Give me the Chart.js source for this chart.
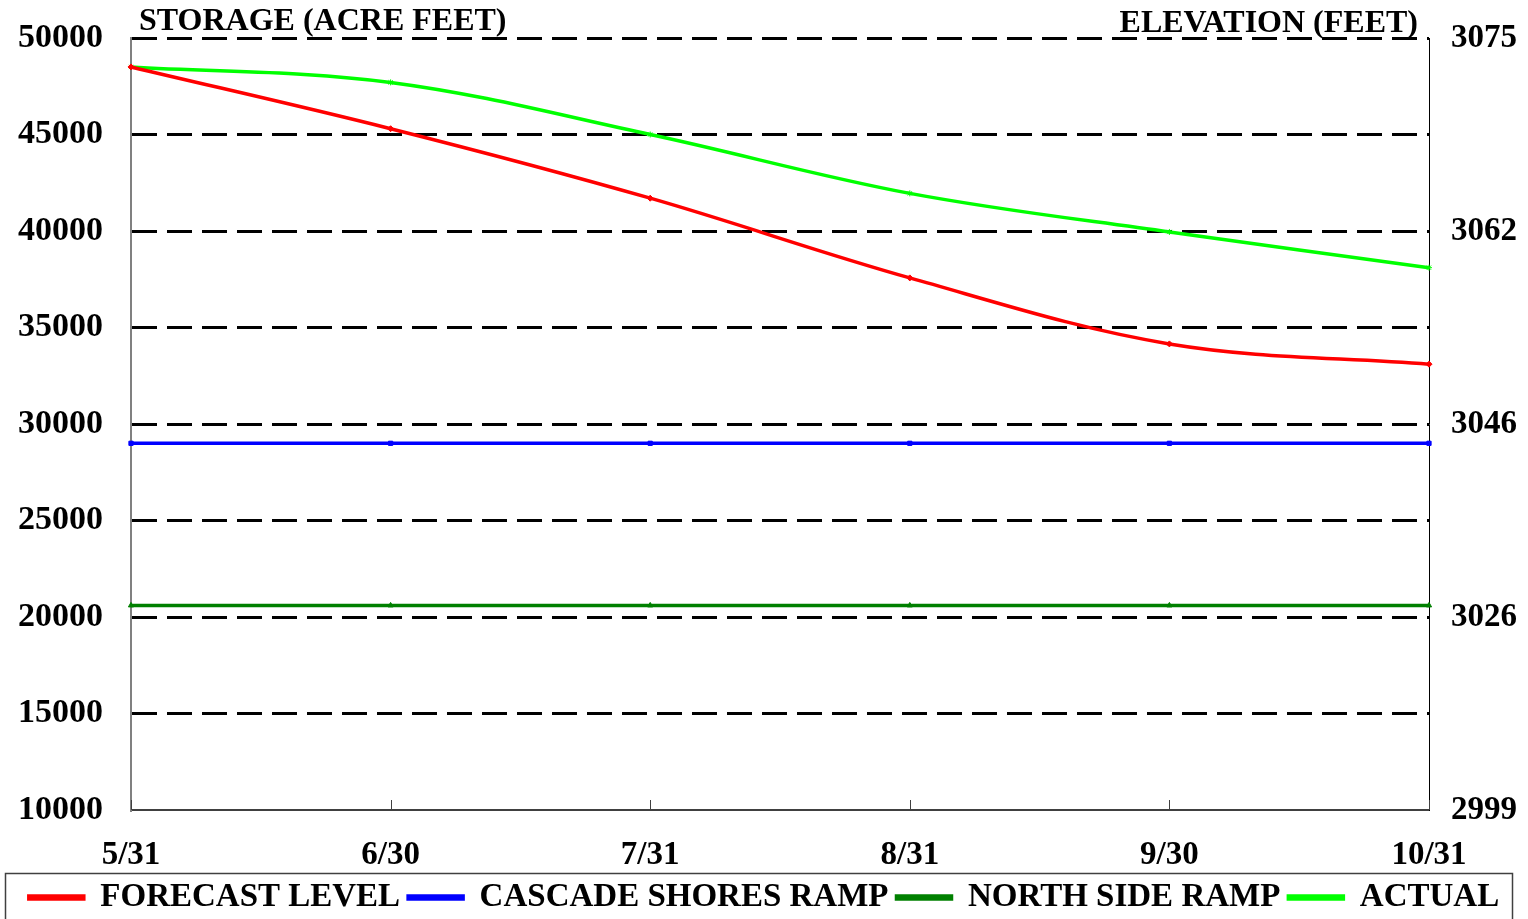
<!DOCTYPE html>
<html>
<head>
<meta charset="utf-8">
<script src="https://cdn.jsdelivr.net/npm/chart.js@4.4.0/dist/chart.umd.min.js"></script>
<style>
    html, body { margin: 0; padding: 0; background: #fff; overflow: hidden; }
    #wrap { width: 1528px; height: 919px; }
</style>
</head>
<body>
<div id="wrap"><canvas id="chart" width="1528" height="919"></canvas></div>
<script>
/* reservoir storage vs forecast */
const months = ["5/31", "6/30", "7/31", "8/31", "9/30", "10/31"];
const forecastLevel = [48500, 45300, 41700, 37570, 34150, 33100];
const cascadeShoresRamp = [29000, 29000, 29000, 29000, 29000, 29000];
const northSideRamp = [20600, 20600, 20600, 20600, 20600, 20600];
const actual = [48500, 47700, 45000, 41950, 39950, 38100];

const storageMin = 10000;
const storageMax = 50000;
const elevationAt = [10000, 20000, 30000, 40000, 50000];
const elevationLabels = ["2999", "3026", "3046", "3062", "3075"];

const FONT = "'Liberation Serif', 'Times New Roman', serif";

function series(label, data, color, style) {
    return {
        label: label, data: data,
        borderColor: color, backgroundColor: color,
        borderWidth: 3.5, tension: 0.35,
        pointStyle: style, pointRadius: 3, pointHoverRadius: 3,
        pointBorderWidth: 1
    };
}

function noPad(s) {
    s.paddingTop = 0;
    s.paddingBottom = 0;
}

/* extra drawing: axis captions, inner x ticks, legend frame */
const decor = {
    id: "decor",
    afterDraw(chart) {
        const ctx = chart.ctx;
        const a = chart.chartArea;
        const x = chart.scales.x;
        ctx.save();
        ctx.strokeStyle = "#404040";
        ctx.lineWidth = 1;
        months.forEach((m, i) => {
            const px = Math.round(x.getPixelForTick(i)) + 0.5;
            ctx.beginPath();
            ctx.moveTo(px, a.bottom);
            ctx.lineTo(px, a.bottom - 10);
            ctx.stroke();
        });

        ctx.fillStyle = "#000";
        ctx.font = "bold 32px " + FONT;
        ctx.textBaseline = "alphabetic";
        ctx.textAlign = "left";
        ctx.fillText("STORAGE (ACRE FEET)", 139, 30);
        ctx.textAlign = "right";
        ctx.fillText("ELEVATION (FEET)", 1418, 32);

        const lg = chart.legend;
        ctx.strokeStyle = "#404040";
        ctx.lineWidth = 1.5;
        ctx.strokeRect(5.5, lg.top + 0.5, 1507, 80);
        ctx.restore();
    }
};

new Chart(document.getElementById("chart"), {
    type: "line",
    data: {
        labels: months,
        datasets: [
            series("FORECAST LEVEL", forecastLevel, "#ff0000", "rectRot"),
            series("CASCADE SHORES RAMP", cascadeShoresRamp, "#0000ff", "rect"),
            series("NORTH SIDE RAMP", northSideRamp, "#008000", "triangle"),
            series("ACTUAL", actual, "#00ff00", "star")
        ]
    },
    options: {
        responsive: false, animation: false, devicePixelRatio: 1,
        layout: { padding: { top: 38, left: 0, right: 0, bottom: -5 } },
        plugins: {
            legend: {
                position: "bottom",
                labels: {
                    color: "#000", font: { family: FONT, size: 33, weight: "bold" },
                    boxWidth: 55, boxHeight: 3, padding: 8
                }
            },
            tooltip: { enabled: false }
        },
        scales: {
            x: {
                offset: false,
                grid: { display: false },
                border: { display: true, color: "#404040", width: 2 },
                ticks: { color: "#000", font: { family: FONT, size: 33, weight: "bold" }, padding: 18, maxRotation: 0 },
                afterFit(s) { s.height = 63; }
            },
            y: {
                position: "left", min: storageMin, max: storageMax,
                ticks: {
                    stepSize: 5000, color: "#000", font: { family: FONT, size: 34, weight: "bold" }, padding: 28,
                    callback: v => String(v)
                },
                grid: {
                    drawTicks: false, lineWidth: 3,
                    color: c => c.tick && c.tick.value === storageMin ? "rgba(0,0,0,0)" : "#000"
                },
                border: { display: true, color: "#808080", width: 2, dash: [25, 10] },
                afterFit(s) { s.width = 131; noPad(s); }
            },
            y2: {
                position: "right", min: storageMin, max: storageMax,
                afterBuildTicks(s) { s.ticks = elevationAt.map(v => ({ value: v })); },
                ticks: {
                    color: "#000", font: { family: FONT, size: 33, weight: "bold" }, padding: 22,
                    callback: v => elevationLabels[elevationAt.indexOf(v)]
                },
                grid: { display: false, drawTicks: false },
                border: { display: true, color: "#000", width: 1 },
                afterFit(s) { s.width = 99; noPad(s); }
            }
        }
    },
    plugins: [decor]
});
</script>
</body>
</html>
